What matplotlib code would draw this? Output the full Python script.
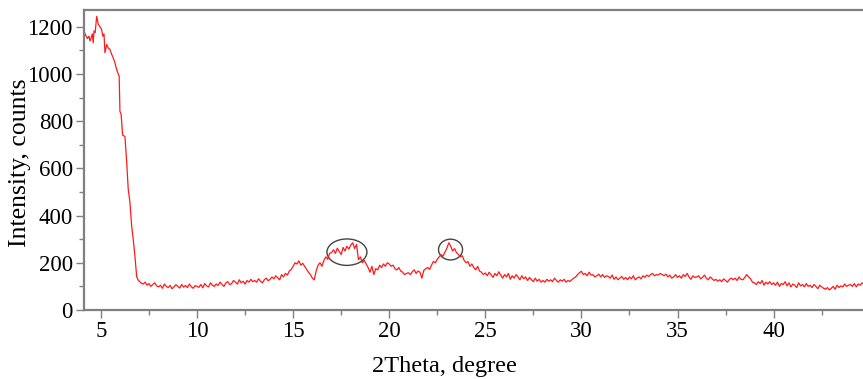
import matplotlib
matplotlib.use("Agg")
import matplotlib.pyplot as plt
from matplotlib.patches import Ellipse
from matplotlib.ticker import MultipleLocator
import numpy as np

# ---- data ----
# steep low-angle region (irregular sampling)
theta_low = [4.12, 4.2, 4.3, 4.38, 4.43, 4.5, 4.55, 4.6, 4.64, 4.7, 4.78, 4.86, 4.95,
             5.03, 5.1, 5.16, 5.21, 5.3, 5.38, 5.47, 5.55, 5.64, 5.72, 5.82, 5.9, 5.95,
             5.99, 6.05, 6.13, 6.25, 6.34, 6.42, 6.51, 6.6, 6.68, 6.77, 6.86, 6.95]
counts_low = [1182, 1165, 1150, 1160, 1140, 1154, 1170, 1132, 1182, 1175, 1244, 1211, 1200,
              1190, 1160, 1170, 1090, 1125, 1110, 1104, 1085, 1068, 1050, 1018, 1000, 991,
              841, 830, 741, 735, 627, 513, 456, 356, 300, 228, 142, 125]

# 7.0 .. 44.7 degrees, 0.1 degree steps
theta_start = 7.0
theta_step = 0.1
counts_main = [
    121, 114, 110, 118, 105, 112, 100, 108, 115, 102,   # 7
    98, 105, 92, 110, 100, 95, 104, 90, 98, 107,        # 8
    100, 93, 108, 97, 104, 95, 110, 99, 92, 103,        # 9
    100, 96, 108, 94, 112, 102, 98, 115, 105, 100,      # 10
    110, 104, 118, 108, 100, 115, 120, 107, 112, 125,   # 11
    118, 110, 128, 115, 122, 110, 125, 118, 130, 120,   # 12
    125, 118, 132, 122, 115, 128, 135, 124, 130, 140,   # 13
    132, 145, 136, 128, 150, 140, 155, 148, 165, 172,   # 14
    185, 200, 195, 208, 190, 198, 185, 172, 160, 150,   # 15
    135, 128, 165, 190, 200, 185, 210, 225, 215, 240,   # 16
    243, 255, 240, 262, 248, 235, 265, 250, 270, 258,   # 17
    275, 285, 260, 278, 213, 225, 200, 210, 195, 180,   # 18
    160, 185, 150, 175, 170, 190, 180, 195, 185, 200,   # 19
    195, 185, 190, 175, 170, 180, 165, 160, 150, 155,   # 20
    158, 150, 162, 170, 155, 165, 160, 135, 168, 175,   # 21
    180, 172, 190, 206, 200, 215, 225, 235, 228, 245,   # 22
    262, 285, 270, 250, 260, 243, 235, 225, 230, 210,   # 23
    200, 205, 185, 195, 180, 170, 185, 165, 160, 150,   # 24
    157, 145, 160, 150, 138, 155, 145, 162, 148, 135,   # 25
    150, 140, 155, 130, 145, 135, 150, 140, 128, 145,   # 26
    132, 140, 125, 138, 128, 120, 135, 122, 130, 118,   # 27
    125, 118, 130, 122, 128, 120, 135, 125, 118, 128,   # 28
    122, 130, 118, 125, 121, 128, 135, 140, 150, 158,   # 29
    164, 150, 155, 145, 160, 148, 150, 140, 145, 152,   # 30
    140, 150, 138, 145, 142, 135, 148, 130, 140, 128,   # 31
    135, 142, 130, 138, 128, 140, 132, 145, 128, 135,   # 32
    140, 132, 145, 138, 148, 142, 150, 155, 145, 150,   # 33
    148, 155, 150, 145, 152, 140, 148, 135, 140, 150,   # 34
    138, 145, 135, 150, 142, 155, 140, 130, 145, 138,   # 35
    140, 145, 132, 138, 148, 135, 128, 140, 132, 125,   # 36
    130, 122, 128, 120, 132, 125, 118, 130, 135, 128,   # 37
    135, 125, 140, 130, 128, 138, 150, 140, 132, 118,   # 38
    115, 108, 120, 112, 125, 105, 118, 110, 120, 108,   # 39
    115, 105, 118, 100, 112, 108, 120, 102, 115, 98,    # 40
    110, 105, 95, 115, 102, 108, 98, 112, 100, 105,     # 41
    95, 108, 100, 90, 105, 98, 92, 88, 95, 85,          # 42
    92, 100, 88, 105, 95, 102, 98, 110, 100, 105,       # 43
    108, 100, 112, 98, 110, 105, 115, 108,              # 44
]

# highlighted regions (centre 2theta, centre counts, width deg, height counts)
ellipse_x = [17.8, 23.19]
ellipse_y = [245, 256]
ellipse_w = [2.08, 1.25]
ellipse_h = [112, 88]

x_ticks = [5, 10, 15, 20, 25, 30, 35, 40]
y_ticks = [0, 200, 400, 600, 800, 1000, 1200]

theta_main = [round(theta_start + i * theta_step, 2) for i in range(len(counts_main))]
theta = theta_low + theta_main
counts = counts_low + counts_main

plt.rcParams['font.family'] = ['Liberation Serif', 'DejaVu Serif']

fig = plt.figure(figsize=(8.63, 3.79), dpi=100)
ax = fig.add_axes([84 / 863, 1 - 310 / 379, 1 - 84 / 863 + 0.002, 300 / 379])

ax.plot(theta, counts, color='#ff1a1a', lw=0.9)

for cx, cy, w, h in zip(ellipse_x, ellipse_y, ellipse_w, ellipse_h):
    ax.add_patch(Ellipse((cx, cy), w, h, fill=False, edgecolor='#444444', lw=1.0))

ax.set_xlim(4.12, 44.74)
ax.set_ylim(0, 1271)
ax.set_xticks(x_ticks)
ax.set_yticks(y_ticks)
ax.xaxis.set_minor_locator(MultipleLocator(2.5))
ax.yaxis.set_minor_locator(MultipleLocator(100))

spine_col = '#808080'
for s in ['left', 'bottom', 'top']:
    ax.spines[s].set_color(spine_col)
    ax.spines[s].set_linewidth(1.6)
ax.spines['right'].set_visible(False)

ax.tick_params(which='major', direction='out', length=6, width=1, color=spine_col,
               labelsize=16.5, pad=2)
ax.tick_params(which='minor', direction='out', length=3.5, width=1, color=spine_col)
ax.tick_params(axis='x', top=False, which='both')

ax.set_xlabel('2Theta, degree', fontsize=17.5)
ax.xaxis.set_label_coords((444 - 84) / (863 - 84), -0.152)
ax.set_ylabel('Intensity, counts', fontsize=18.5)
ax.yaxis.set_label_coords(-0.068, 0.49)

fig.savefig('out.png', dpi=100)
